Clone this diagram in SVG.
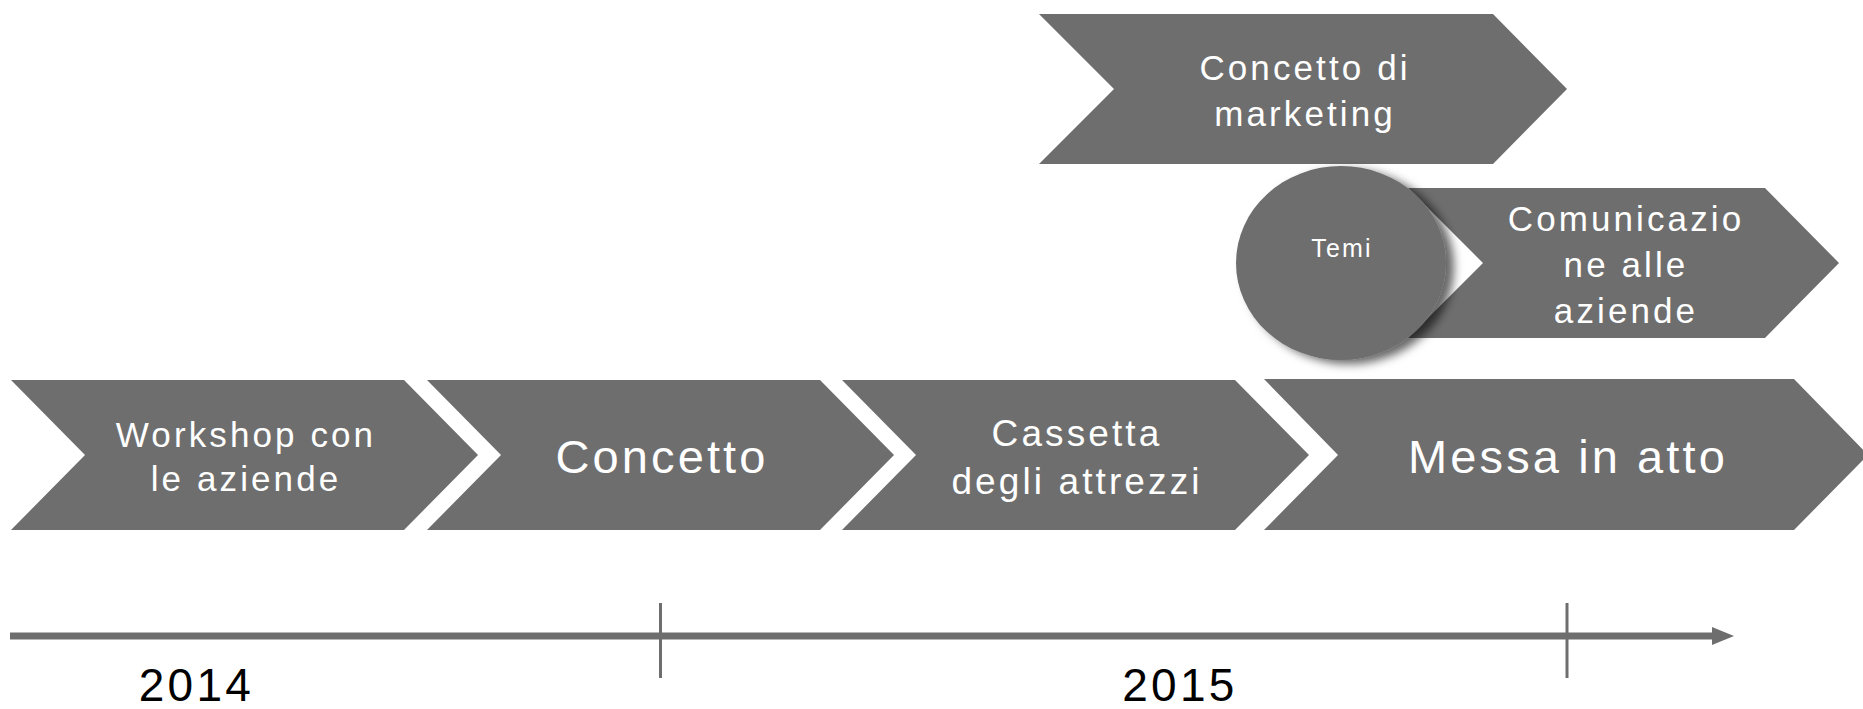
<svg xmlns="http://www.w3.org/2000/svg" width="1863" height="709" viewBox="0 0 1863 709">
  <style>
    .shape { fill: #6e6e6e; }
    .lbl { font-family: "Liberation Sans", Arial, sans-serif; fill: #ffffff; text-anchor: middle; letter-spacing: 3.1px; }
    .big { font-size: 47px; }
    .mid { font-size: 35px; }
    .small { font-size: 25px; letter-spacing: 2.2px; }
    .year { font-family: "Liberation Sans", Arial, sans-serif; font-size: 46px; fill: #000000; text-anchor: middle; letter-spacing: 3.3px; }
    .axis { stroke: #6e6e6e; stroke-width: 7; fill: none; }
    .tick { stroke: #6e6e6e; stroke-width: 3; fill: none; }
  </style>
  <defs>
    <filter id="shadow" x="-20%" y="-20%" width="150%" height="150%">
      <feDropShadow dx="8" dy="4" stdDeviation="5" flood-color="#000000" flood-opacity="0.6"/>
    </filter>
    <marker id="arrow" viewBox="0 0 22 18" refX="2" refY="9" markerWidth="22" markerHeight="18" markerUnits="userSpaceOnUse" orient="auto">
      <polygon points="0,0 22,9 0,18" fill="#6e6e6e"/>
    </marker>
  </defs>

  <rect width="1863" height="709" fill="#ffffff"/>

  <g id="node-workshop">
    <polygon class="shape" points="11,380 404,380 478,455 404,530 11,530 85,455"/>
    <text class="lbl mid" x="246" y="447">Workshop con</text>
    <text class="lbl mid" x="246" y="491">le aziende</text>
  </g>

  <g id="node-concetto">
    <polygon class="shape" points="427,380 820,380 894,455 820,530 427,530 501,455"/>
    <text class="lbl big" x="662" y="473">Concetto</text>
  </g>

  <g id="node-cassetta">
    <polygon class="shape" points="842,380 1235,380 1309,455 1235,530 842,530 916,455"/>
    <text class="lbl mid" x="1077" y="446" style="font-size:37px">Cassetta</text>
    <text class="lbl mid" x="1077" y="494" style="font-size:37px">degli attrezzi</text>
  </g>

  <g id="node-messa">
    <polygon class="shape" points="1264,379 1794,379 1868,455 1794,530 1264,530 1338,455"/>
    <text class="lbl big" x="1568" y="473">Messa in atto</text>
  </g>

  <g id="node-marketing">
    <polygon class="shape" points="1039,14 1493,14 1567,89 1493,164 1039,164 1114,89"/>
    <text class="lbl mid" x="1305" y="80">Concetto di</text>
    <text class="lbl mid" x="1305" y="126">marketing</text>
  </g>

  <g id="node-comunicazione">
    <polygon class="shape" points="1408,188 1765,188 1839,263 1765,338 1408,338 1483,263"/>
    <text class="lbl mid" x="1626" y="231">Comunicazio</text>
    <text class="lbl mid" x="1626" y="277">ne alle</text>
    <text class="lbl mid" x="1626" y="323">aziende</text>
  </g>

  <g id="node-temi">
    <ellipse class="shape" cx="1341" cy="263" rx="105" ry="97" filter="url(#shadow)"/>
    <text class="lbl small" x="1342" y="257">Temi</text>
  </g>

  <g id="connectors">
    <line class="axis" x1="10" y1="636" x2="1714" y2="636" marker-end="url(#arrow)"/>
    <line class="tick" x1="660.5" y1="603" x2="660.5" y2="678"/>
    <line class="tick" x1="1567" y1="603" x2="1567" y2="678"/>
  </g>

  <g id="years">
    <text class="year" x="196.5" y="701">2014</text>
    <text class="year" x="1180" y="701">2015</text>
  </g>
</svg>
